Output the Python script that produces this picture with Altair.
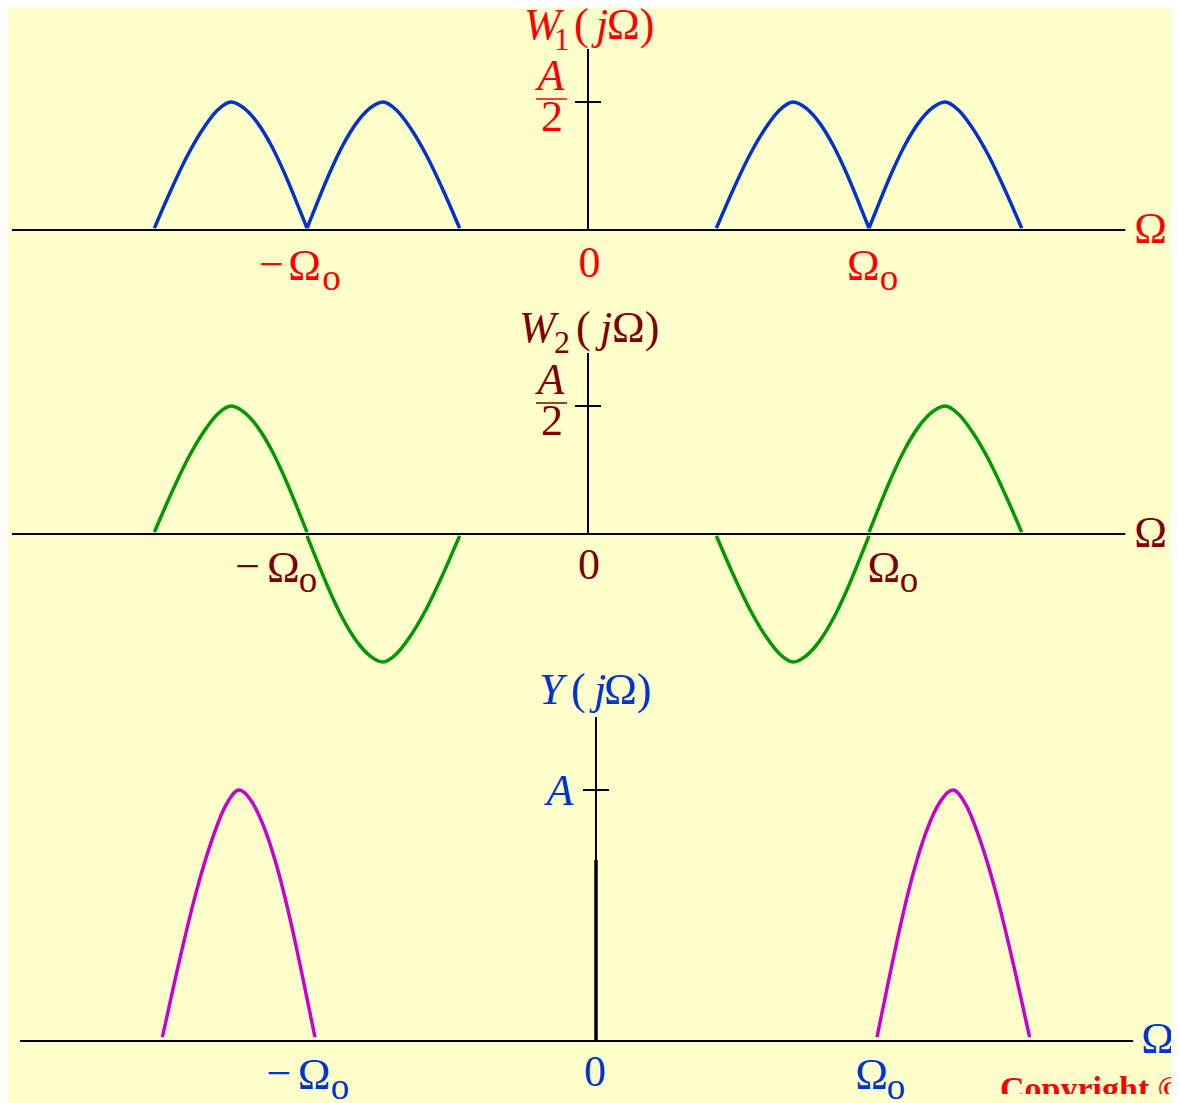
import altair as alt
import pandas as pd

BG = "#FFFFCC"
FONT = "Liberation Serif"

# ---------------- data ----------------
# one sideband hump, measured outward from its carrier (Omega in units of Omega_o),
# value in units of the hump peak (A/2 for W1, W2 ; A for Y)
hump_offset = [0.0, 0.033, 0.080, 0.128, 0.175, 0.223, 0.270, 0.318, 0.365, 0.4245, 0.484, 0.543]
hump_value = [0.015, 0.195, 0.443, 0.664, 0.833, 0.95, 1.0, 0.9375, 0.807, 0.586, 0.3125, 0.015]

# where each hump sits: carrier (+/-Omega_o), direction away from carrier, sign
w1_carrier = [1, 1, -1, -1]
w1_dir = [-1, 1, 1, -1]
w1_sign = [1, 1, 1, 1]

w2_carrier = [1, 1, -1, -1]
w2_dir = [-1, 1, -1, 1]
w2_sign = [-1, 1, 1, -1]

y_carrier = [1, -1]
y_dir = [1, -1]
y_sign = [1, 1]

# axis extents (data units)
h_axis = [-2.05, 1.912]
v_axis_top = [1.414, 1.414, 1.291]
tick_value = 1.0
tick_positions = [-1, 0, 1]

# texts
title1_text = ["W", "1", "(", "j", "Ω)"]
title2_text = ["W", "2", "(", "j", "Ω)"]
title3_text = ["Y", "(", "j", "Ω)"]
frac_text = ["A", "2"]
peak3_text = "A"
minus_text = "−"
omega_text = "Ω"
sub_text = "o"
zero_text = "0"
copyright_text = "Copyright © 2005, S. K. Mitra"

FS = 44      # main text size
SUBO = 37    # subscript "o" size


def build(carrier, direction, sign):
    rows = []
    for s, (c, d, g) in enumerate(zip(carrier, direction, sign)):
        for o, v in zip(hump_offset, hump_value):
            rows.append({"u": c + d * o, "v": g * v, "seg": s})
    return pd.DataFrame(rows)


W = 1163
ONE = alt.Data(values=[{"k": 0}])


def make_panel(df, line_color, txt_color, xdom, ydom, vtop, title_specs,
               tick_specs, frac=True, extra_rules=None):
    xs = alt.Scale(domain=xdom, nice=False, zero=False)
    ys = alt.Scale(domain=ydom, nice=False, zero=False)

    def X(v):
        return alt.XDatum(v, type="quantitative", scale=xs, axis=None)

    def Y(v):
        return alt.YDatum(v, type="quantitative", scale=ys, axis=None)

    def text(t, x, y, dx, dy, size=FS, italic=False, align="left", color=txt_color,
             bold=False, clip=False):
        return alt.Chart(ONE).mark_text(
            text=t, dx=dx, dy=dy, fontSize=size, font=FONT,
            fontStyle="italic" if italic else "normal",
            fontWeight="bold" if bold else "normal",
            align=align, baseline="alphabetic", color=color, clip=clip,
        ).encode(x=X(x), y=Y(y))

    layers = []
    # horizontal axis
    layers.append(alt.Chart(ONE).mark_rule(color="black", strokeWidth=2).encode(
        x=X(h_axis[0]), x2=alt.X2Datum(h_axis[1]), y=Y(0)))
    # vertical axis
    layers.append(alt.Chart(ONE).mark_rule(color="black", strokeWidth=2).encode(
        x=X(0), y=Y(0), y2=alt.Y2Datum(vtop)))
    if extra_rules:
        for (y0, y1, sw) in extra_rules:
            layers.append(alt.Chart(ONE).mark_rule(color="black", strokeWidth=sw).encode(
                x=X(0), y=Y(y0), y2=alt.Y2Datum(y1)))
    # tick
    layers.append(alt.Chart(ONE).mark_rule(color="black", strokeWidth=2, xOffset=-13,
                                           x2Offset=13).encode(
        x=X(0), x2=alt.X2Datum(0), y=Y(tick_value)))
    # curves
    layers.append(alt.Chart(df).mark_line(color=line_color, strokeWidth=3.5,
                                          interpolate="monotone").encode(
        x=alt.X("u:Q", scale=xs, axis=None),
        y=alt.Y("v:Q", scale=ys, axis=None),
        detail="seg:N"))
    # title pieces (relative to top of vertical axis)
    for (t, dx, dy, size, it) in title_specs:
        layers.append(text(t, 0, vtop, dx, dy, size=size, italic=it, clip=True))
    # fraction A/2 beside the tick
    if frac:
        layers.append(text(frac_text[0], 0, tick_value, -37, -12, italic=True, align="center"))
        layers.append(alt.Chart(ONE).mark_rule(color=txt_color, strokeWidth=1.5, xOffset=-52,
                                               x2Offset=-21, yOffset=-3).encode(
            x=X(0), x2=alt.X2Datum(0), y=Y(tick_value)))
        layers.append(text(frac_text[1], 0, tick_value, -36, 29, align="center"))
    else:
        layers.append(text(peak3_text, 0, tick_value, -36, 15, italic=True, align="center"))
    # tick labels on the Omega axis
    (m_dx, mo_dx, ms_dx, o_dx, os_dx, z_dx, base_dy, sub_dy, end_dx, end_dy) = tick_specs
    layers.append(text(minus_text, tick_positions[0], 0, m_dx, base_dy - 1, align="center"))
    layers.append(text(omega_text, tick_positions[0], 0, mo_dx, base_dy, align="center"))
    layers.append(text(sub_text, tick_positions[0], 0, ms_dx, sub_dy, size=SUBO, align="center"))
    layers.append(text(zero_text, tick_positions[1], 0, z_dx, base_dy - 3, align="center"))
    layers.append(text(omega_text, tick_positions[2], 0, o_dx, base_dy, align="center"))
    layers.append(text(sub_text, tick_positions[2], 0, os_dx, sub_dy, size=SUBO, align="center"))
    layers.append(text(omega_text, h_axis[1], 0, end_dx, end_dy, clip=True))
    return layers, text


# panel 1 ------------------------------------------------------------
p1_layers, _ = make_panel(
    build(w1_carrier, w1_dir, w1_sign), "#0033CC", "#FF0000",
    [-2.0641, 2.0747], [-0.546875, 1.734375], v_axis_top[0],
    [(title1_text[0], -64, -10, FS, True), (title1_text[1], -34, 1, 31, False),
     (title1_text[2], -14, -10, FS, False), (title1_text[3], 8, -10, FS, True),
     (title1_text[4], 19, -10, FS, False)],
    (-35.6, -2.5, 24.5, -5.7, 20, 1.6, 49.5, 59.5, 9, 13),
)
p1 = alt.layer(*p1_layers).properties(width=W, height=292)

# panel 2 ------------------------------------------------------------
p2_layers, _ = make_panel(
    build(w2_carrier, w2_dir, w2_sign), "#009900", "#800000",
    [-2.0641, 2.0747], [-1.078125, 1.828125], v_axis_top[1],
    [(title2_text[0], -69, -11.5, FS, True), (title2_text[1], -34, 0, 32, False),
     (title2_text[2], -12, -11.5, FS, False), (title2_text[3], 12, -11.5, FS, True),
     (title2_text[4], 24, -11.5, FS, False)],
    (-59.3, -23.7, 1, 14.8, 40, 1, 47.7, 57.7, 9, 13),
)
p2 = alt.layer(*p2_layers).properties(width=W, height=372)

# panel 3 ------------------------------------------------------------
p3_layers, text3 = make_panel(
    build(y_carrier, y_dir, y_sign), "#CC00CC", "#0033CC",
    [-2.0925, 2.0463], [-0.21116, 1.47012], v_axis_top[2],
    [(title3_text[0], -57, -13.4, FS, True), (title3_text[1], -25, -13.4, FS, False),
     (title3_text[2], -2, -13.4, FS, True), (title3_text[3], 8, -13.4, FS, False)],
    (-36, -1, 25, -5.5, 19, -1, 48, 58, 8, 12),
    frac=False, extra_rules=[(0, 0.721, 3.5)],
)
p3_layers.append(text3(copyright_text, 1, 0, 123, 59.5, size=34, color="#FF0000",
                       bold=True, clip=True))
p3 = alt.layer(*p3_layers).properties(width=W, height=422)

chart = alt.vconcat(p1, p2, p3, spacing=0, bounds="flush").properties(
    padding=0
).configure(background=BG).configure_view(strokeWidth=0)

chart.save("out.html", embed_options={"renderer": "svg", "actions": False})
